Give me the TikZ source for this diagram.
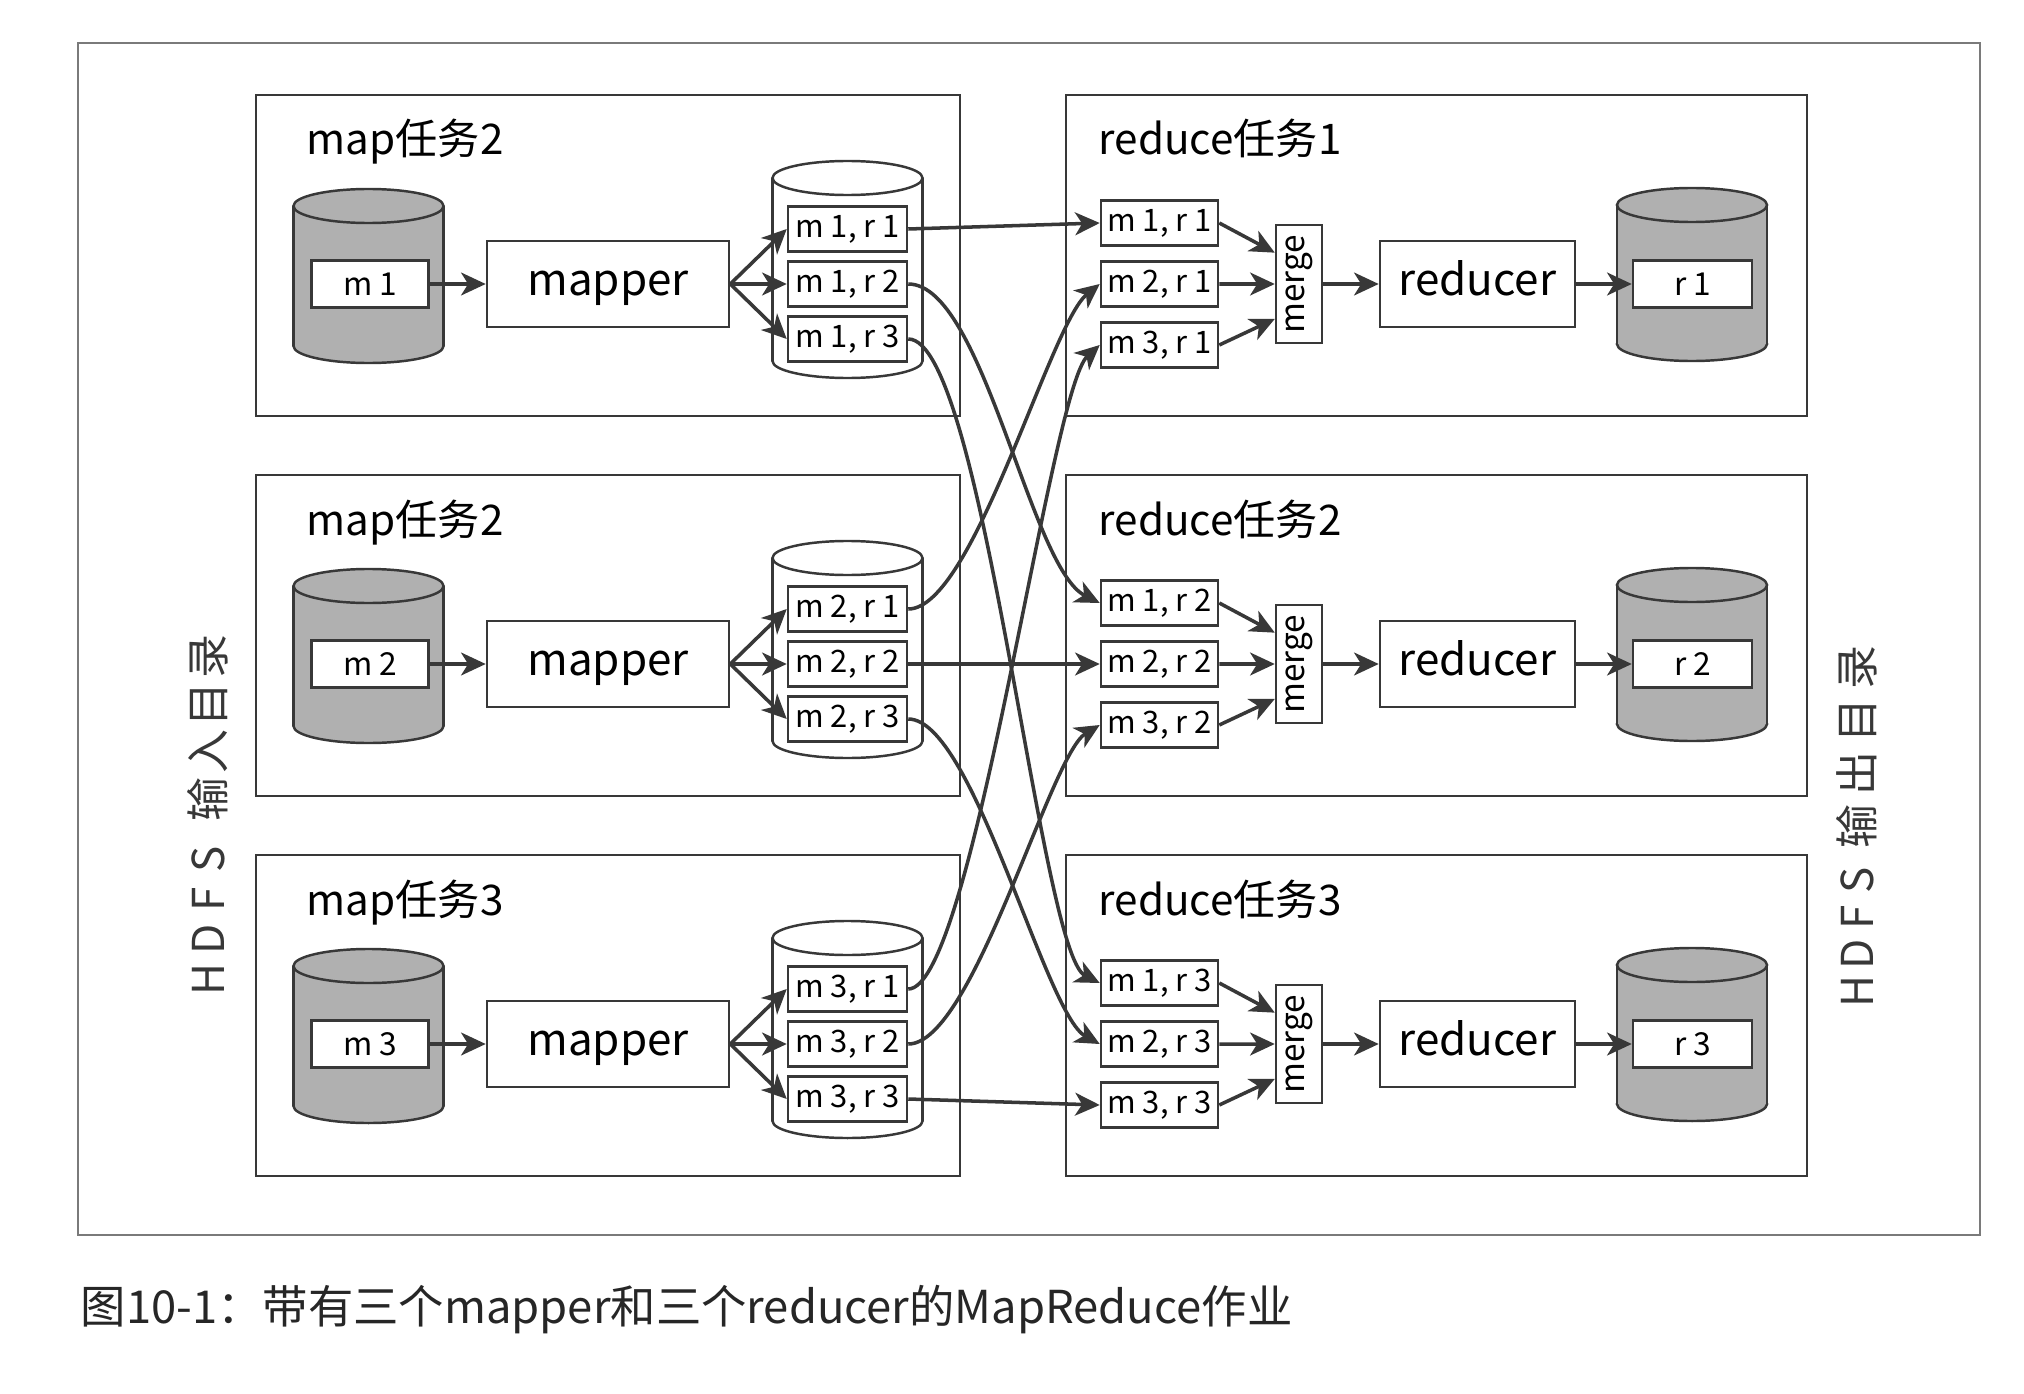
\documentclass[tikz,border=0pt]{standalone}
\usepackage{fontspec}
\usepackage{graphicx}
\setmainfont{Noto Sans CJK SC}
\usetikzlibrary{arrows.meta,calc}
\definecolor{inkgray}{HTML}{383838}
\definecolor{framegray}{HTML}{7A7A7A}
\definecolor{drumgray}{HTML}{B0B0B0}
% cylinder: centre x, top ellipse y, bottom ellipse y, fill
\newcommand{\drum}[4]{%
  \fill[#4] (#1,#3) ellipse [x radius=0.75cm, y radius=0.17cm];
  \draw[inkgray, line width=0.7pt] (#1,#3) ellipse [x radius=0.75cm, y radius=0.17cm];
  \fill[#4] (#1-75,#2) rectangle (#1+75,#3);
  \draw[inkgray, line width=0.7pt] (#1-75,#2) -- (#1-75,#3) (#1+75,#2) -- (#1+75,#3);
  \filldraw[inkgray, line width=0.7pt, fill=#4] (#1,#2) ellipse [x radius=0.75cm, y radius=0.17cm];
}
\begin{document}
\begin{tikzpicture}[x=0.01cm,y=-0.01cm]
    \tikzset{
        box/.style={draw=inkgray, line width=0.7pt, fill=white, inner sep=0pt},
        part/.style={box, minimum width=1.19cm, minimum height=0.45cm, font=\fontsize{8.8}{10}\selectfont},
        file/.style={box, minimum width=1.17cm, minimum height=0.47cm, font=\fontsize{9}{11}\selectfont},
        worker/.style={box, minimum height=0.86cm, text height=8.5pt, text depth=2pt, font=\fontsize{12.5}{14}\selectfont},
        merge box/.style={box, minimum width=0.46cm, minimum height=1.18cm, font=\fontsize{9.5}{12}\selectfont},
        task/.style={draw=inkgray, line width=0.7pt},
        task label/.style={anchor=base west, inner sep=0pt, font=\fontsize{12}{14}\selectfont},
        side label/.style={rotate=90, inner sep=0pt, text=inkgray, font=\fontsize{12.5}{14}\selectfont},
        flow/.style={draw=inkgray, line width=1pt, -{Stealth[length=7pt,width=6.5pt,inset=2pt]}}
    }
    \useasboundingbox (0,0) rectangle (2024,1394);
    \fill[white] (0,0) rectangle (2024,1394);
    \draw[framegray, line width=0.6pt] (78,43) rectangle (1980,1235);

    \foreach \i/\mlab/\rlab in {1/map任务2/reduce任务1, 2/map任务2/reduce任务2, 3/map任务3/reduce任务3} {
        \pgfmathsetmacro\yc{284+380*(\i-1)}
        % map side
        \draw[task] (256,\yc-189) rectangle (960,\yc+132);
        \node[task label] (maplabel\i) at (306,\yc-129) {\mlab};
        \drum{368.5}{\yc-78}{\yc+62}{drumgray}
        \node[file] (in\i) at (370,\yc) {m \i};
        \node[worker, minimum width=2.42cm] (mapper\i) at (608,\yc) {mapper};
        \drum{847.5}{\yc-106}{\yc+77}{white}
        \foreach \j in {1,2,3} {
            \node[part] (spill\i\j) at (847.5,{\yc+55*(\j-2)}) {m \i, r \j};
            \draw[flow] (mapper\i.east) -- (spill\i\j.west);
        }
        \draw[flow] (in\i) -- (mapper\i);
        % reduce side
        \draw[task] (1066,\yc-189) rectangle (1807,\yc+132);
        \node[task label] (reducelabel\i) at (1098,\yc-129) {\rlab};
        \node[merge box] (merge\i) at (1299,\yc) {\rotatebox{90}{merge}};
        \foreach \k/\f in {1/0.24, 2/0.5, 3/0.79} {
            \node[part, minimum width=1.17cm] (fetch\i\k) at (1159.5,{\yc+61*(\k-2)}) {m \k, r \i};
            \draw[flow] (fetch\i\k.east) -- ($(merge\i.north west)!\f!(merge\i.south west)$);
        }
        \node[worker, minimum width=1.95cm] (reducer\i) at (1477.5,\yc) {reducer};
        \drum{1692}{\yc-79}{\yc+60}{drumgray}
        \node[file, minimum width=1.19cm] (out\i) at (1692.5,\yc) {r \i};
        \draw[flow] (merge\i) -- (reducer\i);
        \draw[flow] (reducer\i) -- (out\i);
    }

    % shuffle
    \draw[flow] (spill11.east) -- (fetch11.west);
    \draw[flow] (spill22.east) -- (fetch22.west);
    \draw[flow] (spill33.east) -- (fetch33.west);
    \draw[flow] (spill12.east) .. controls +(75,0) and +(-70,-35) .. (fetch21.west);
    \draw[flow] (spill13.east) .. controls +(75,0) and +(-60,-30) .. (fetch31.west);
    \draw[flow] (spill21.east) .. controls +(65,0) and +(-50,40) .. (fetch12.west);
    \draw[flow] (spill23.east) .. controls +(65,0) and +(-55,-30) .. (fetch32.west);
    \draw[flow] (spill31.east) .. controls +(65,0) and +(-50,45) .. (fetch13.west);
    \draw[flow] (spill32.east) .. controls +(65,0) and +(-50,30) .. (fetch23.west);

    \node[side label] (hdfsin) at (208,817)
        {\makebox[11.4pt]{H}\makebox[11.4pt]{D}\makebox[11.4pt]{F}\makebox[11.4pt]{S}\hspace{5pt}输\hspace{1pt}入\hspace{1pt}目\hspace{1pt}录};
    \node[side label] (hdfsout) at (1857,828)
        {\makebox[10.5pt]{H}\makebox[10.5pt]{D}\makebox[10.5pt]{F}\makebox[10.5pt]{S}\hspace{4pt}输\hspace{2.5pt}出\hspace{2.5pt}目\hspace{2.5pt}录};
    \node[anchor=west, inner sep=0pt, text=black!85, font=\fontsize{12.9}{16}\selectfont] (caption) at (80,1310)
        {图10-1：带有三个mapper和三个reducer的MapReduce作业};
\end{tikzpicture}
\end{document}
